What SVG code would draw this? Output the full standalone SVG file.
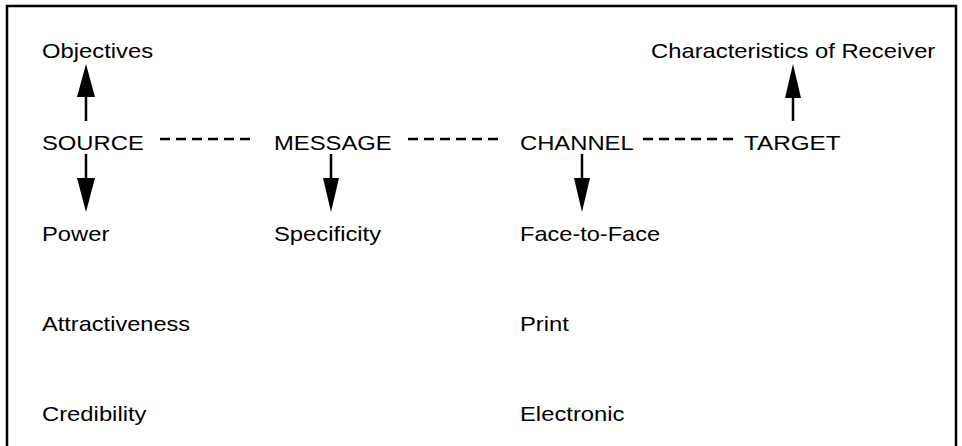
<svg xmlns="http://www.w3.org/2000/svg" width="962" height="446" viewBox="0 0 962 446">
<style>
  text { font-family: "Liberation Sans", Arial, sans-serif; font-size: 21px; fill: #000; }
  .frame { fill: none; stroke: #000; stroke-width: 2.5; }
  .dash { stroke: #000; stroke-width: 2.5; stroke-dasharray: 10 6; fill: none; }
  .shaft { stroke: #000; stroke-width: 2.5; fill: none; }
  .head { fill: #000; stroke: none; }
</style>
<rect width="962" height="446" fill="#fff"/>
<path class="frame" d="M7,446 V6 H956 V446"/>

<g id="connectors">
  <line class="dash" x1="160" y1="139" x2="250" y2="139"/>
  <line class="dash" x1="408" y1="139" x2="498" y2="139"/>
  <line class="dash" x1="643" y1="139" x2="733" y2="139"/>
  <!-- SOURCE -> Objectives -->
  <line class="shaft" x1="86" y1="121" x2="86" y2="96"/>
  <polygon class="head" points="86,64 77,97 95,97"/>
  <!-- SOURCE -> Power -->
  <line class="shaft" x1="86" y1="154" x2="86" y2="179"/>
  <polygon class="head" points="86,212 77,178 95,178"/>
  <!-- MESSAGE -> Specificity -->
  <line class="shaft" x1="331" y1="154" x2="331" y2="179"/>
  <polygon class="head" points="331,212 323,178 339,178"/>
  <!-- CHANNEL -> Face-to-Face -->
  <line class="shaft" x1="582" y1="154" x2="582" y2="179"/>
  <polygon class="head" points="582,212 574,178 590,178"/>
  <!-- TARGET -> Characteristics of Receiver -->
  <line class="shaft" x1="793" y1="121" x2="793" y2="96"/>
  <polygon class="head" points="793,64 785,98 801,98"/>
</g>

<g id="source"><text x="42" y="150" textLength="101.8" lengthAdjust="spacingAndGlyphs">SOURCE</text></g>
<g id="message"><text x="274" y="150" textLength="117.7" lengthAdjust="spacingAndGlyphs">MESSAGE</text></g>
<g id="channel"><text x="520" y="150" textLength="113.7" lengthAdjust="spacingAndGlyphs">CHANNEL</text></g>
<g id="target"><text x="744" y="150" textLength="96.5" lengthAdjust="spacingAndGlyphs">TARGET</text></g>

<g id="objectives"><text x="42" y="58" textLength="111.1" lengthAdjust="spacingAndGlyphs">Objectives</text></g>
<g id="receiver"><text x="651" y="58" textLength="284.3" lengthAdjust="spacingAndGlyphs">Characteristics of Receiver</text></g>

<g id="power"><text x="42" y="241" textLength="67.4" lengthAdjust="spacingAndGlyphs">Power</text></g>
<g id="attractiveness"><text x="42" y="331" textLength="148.1" lengthAdjust="spacingAndGlyphs">Attractiveness</text></g>
<g id="credibility"><text x="42" y="421" textLength="104.5" lengthAdjust="spacingAndGlyphs">Credibility</text></g>

<g id="specificity"><text x="274" y="241" textLength="107.1" lengthAdjust="spacingAndGlyphs">Specificity</text></g>

<g id="face-to-face"><text x="520" y="241" textLength="140.1" lengthAdjust="spacingAndGlyphs">Face-to-Face</text></g>
<g id="print"><text x="520" y="331" textLength="48.9" lengthAdjust="spacingAndGlyphs">Print</text></g>
<g id="electronic"><text x="520" y="421" textLength="104.5" lengthAdjust="spacingAndGlyphs">Electronic</text></g>
</svg>
